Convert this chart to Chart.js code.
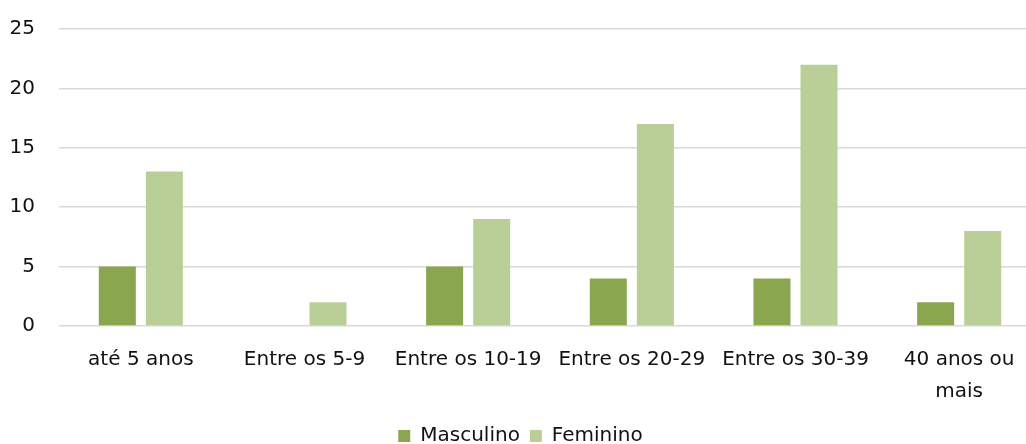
<!DOCTYPE html>
<html>
<head>
<meta charset="utf-8">
<script src="https://cdn.jsdelivr.net/npm/chart.js@4"></script>
<style>
  html, body { margin: 0; padding: 0; background: #fff; overflow: hidden; }
  #wrap { width: 1026px; height: 444px; overflow: hidden; }
</style>
</head>
<body>
<div id="wrap"><canvas id="chart" width="1041" height="456"></canvas></div>
<script>
const categories = [
    'até 5 anos',
    'Entre os 5-9',
    'Entre os 10-19',
    'Entre os 20-29',
    'Entre os 30-39',
    ['40 anos ou', 'mais']
];
const masculino = [5, 0, 5, 4, 4, 2];
const feminino = [13, 2, 9, 17, 22, 8];
const yTicks = [0, 5, 10, 15, 20, 25];

Chart.defaults.font.family = '"DejaVu Sans", sans-serif';
Chart.defaults.font.size = 20;
Chart.defaults.color = '#111';

const ctx = document.getElementById('chart').getContext('2d');
const chart = new Chart(ctx, {
    type: 'bar',
    data: {
        labels: categories,
        datasets: [
            {
                label: 'Masculino',
                data: masculino,
                backgroundColor: '#8aa64f',
                categoryPercentage: 0.575,
                barPercentage: 0.787
            },
            {
                label: 'Feminino',
                data: feminino,
                backgroundColor: '#b9cf97',
                categoryPercentage: 0.575,
                barPercentage: 0.787
            }
        ]
    },
    options: {
        responsive: false,
        animation: false,
        layout: { padding: { top: 29, right: 0, left: 0, bottom: 0 } },
        plugins: {
            legend: {
                position: 'bottom',
                labels: {
                    boxWidth: 12,
                    boxHeight: 12,
                    padding: 10,
                    font: { size: 20 }
                }
            },
            tooltip: { enabled: false }
        },
        scales: {
            x: {
                grid: { display: false },
                border: { display: false },
                ticks: {
                    maxRotation: 0,
                    autoSkip: false,
                    padding: 10,
                    font: { size: 20, lineHeight: 1.6 }
                },
                afterFit: function(scale) { scale.height = 90; }
            },
            y: {
                min: 0,
                max: 25,
                afterBuildTicks: function(scale) {
                    scale.ticks = yTicks.map(v => ({ value: v }));
                },
                grid: {
                    color: '#d9d9d9',
                    lineWidth: 1.5,
                    drawTicks: false
                },
                border: { display: false },
                ticks: { padding: 24 },
                afterFit: function(scale) {
                    scale.width = 59;
                    scale.paddingTop = 0;
                    scale.paddingBottom = 0;
                }
            }
        }
    }
});
</script>
</body>
</html>
